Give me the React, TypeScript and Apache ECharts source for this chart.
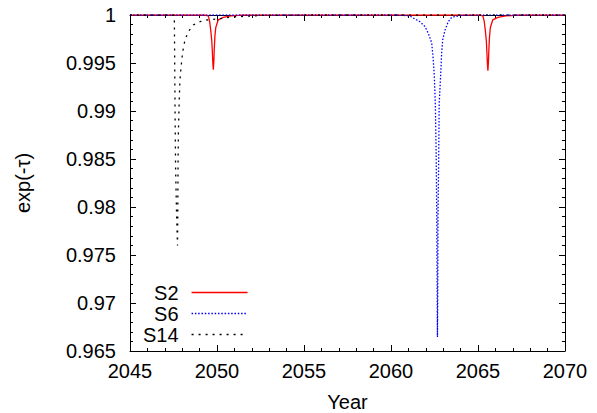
import React, { useEffect, useRef } from "react";
import * as echarts from "echarts";

// S2 (red, solid)
const s2Years = [
  2045, 2049.3, 2049.5, 2049.58, 2049.64, 2049.7, 2049.73, 2049.76, 2049.79, 2049.82, 2049.84, 2049.88, 2049.93,
  2050.07, 2050.36, 2050.8, 2051.5, 2064.5, 2065.08, 2065.28, 2065.36, 2065.42, 2065.48, 2065.51, 2065.54, 2065.57,
  2065.6, 2065.62, 2065.66, 2065.71, 2065.85, 2066.14, 2066.6, 2067.3, 2070,
];
const s2Values = [
  1, 1, 0.9999, 0.9993, 0.9984, 0.9973, 0.9963, 0.995, 0.9943, 0.9952, 0.9963, 0.9978, 0.9987,
  0.9995, 0.99976, 0.9999, 1, 1, 1, 0.9999, 0.9993, 0.9984, 0.9973, 0.9962, 0.9949, 0.9942,
  0.9951, 0.9962, 0.9977, 0.9987, 0.9995, 0.99976, 0.9999, 1, 1,
];

// S6 (blue, dotted)
const s6Years = [
  2045, 2060.5, 2061.09, 2061.38, 2061.67, 2061.95, 2062.14, 2062.34, 2062.43, 2062.49, 2062.55, 2062.6, 2062.63,
  2062.65, 2062.67, 2062.69, 2062.7, 2062.74, 2062.77, 2062.85, 2062.91, 2062.97, 2063.1, 2063.29, 2063.49, 2064.0,
  2065.0, 2070,
];
const s6Values = [
  1, 1, 0.9999, 0.99958, 0.9993, 0.9988, 0.9981, 0.9971, 0.9953, 0.9936, 0.9906, 0.985, 0.9789,
  0.972, 0.96646, 0.972, 0.9789, 0.985, 0.9908, 0.9936, 0.996, 0.9974, 0.9984, 0.9993, 0.99976, 0.99995,
  1, 1,
];

// S14 (black, dotted)
const s14Years = [
  2045, 2047.5, 2047.55, 2047.59, 2047.62, 2047.68, 2047.73, 2047.745, 2047.76, 2047.78, 2047.83, 2047.87, 2047.93,
  2048.03, 2048.16, 2048.35, 2048.64, 2049.02, 2049.41, 2050.27, 2050.92, 2052.5, 2055, 2070,
];
const s14Values = [
  1, 1, 0.9993, 0.99, 0.984, 0.979, 0.976, 0.979, 0.9842, 0.9877, 0.9912, 0.9932, 0.9945,
  0.9962, 0.9974, 0.99826, 0.99896, 0.9993, 0.99948, 0.99965, 0.9998, 0.99995, 1, 1,
];

const seriesNames = ["S2", "S6", "S14"];
const xTicks = { min: 2045, max: 2070, step: 5 };
const yTicks = { min: 0.965, max: 1, step: 0.005 };

const FONT = "'Liberation Sans', Arial, Helvetica, sans-serif";

const pairs = (xs: number[], ys: number[]) => xs.map((x, i) => [x, ys[i]]);

export default function App() {
  const ref = useRef<HTMLDivElement>(null);
  useEffect(() => {
    const chart = echarts.init(ref.current!, null, { renderer: "svg" });
    const axisLine = { show: true, onZero: false, lineStyle: { color: "#000", width: 1 } };
    const axisTick = { show: true, inside: true, length: 6, lineStyle: { color: "#000", width: 1 } };
    const minorTick = { show: true, splitNumber: 5, length: 3, lineStyle: { color: "#000", width: 1 } };
    const labelStyle = { color: "#000", fontSize: 20, fontFamily: FONT };
    chart.setOption({
      animation: false,
      backgroundColor: "#fff",
      grid: { left: 130, top: 15, right: 32, bottom: 62, containLabel: false, outerBoundsMode: "none" },
      xAxis: [
        {
          type: "value",
          position: "bottom",
          min: xTicks.min,
          max: xTicks.max,
          interval: xTicks.step,
          axisLine,
          axisTick,
          minorTick,
          splitLine: { show: false },
          axisLabel: { ...labelStyle, margin: 10, formatter: (v: number) => String(Math.round(v)) },
          name: "Year",
          nameLocation: "middle",
          nameGap: 41,
          nameTextStyle: { ...labelStyle, lineHeight: 20 },
        },
        {
          type: "value",
          position: "top",
          min: xTicks.min,
          max: xTicks.max,
          interval: xTicks.step,
          axisLine,
          axisTick,
          minorTick,
          splitLine: { show: false },
          axisLabel: { show: false },
        },
      ],
      yAxis: [
        {
          type: "value",
          position: "left",
          min: yTicks.min,
          max: yTicks.max,
          interval: yTicks.step,
          axisLine,
          axisTick,
          minorTick,
          splitLine: { show: false },
          axisLabel: {
            ...labelStyle,
            margin: 14,
            formatter: (v: number) => String(parseFloat(v.toFixed(3))),
          },
          name: "exp(-τ)",
          nameLocation: "middle",
          nameRotate: 90,
          nameGap: 97,
          nameTextStyle: { ...labelStyle },
        },
        {
          type: "value",
          position: "right",
          min: yTicks.min,
          max: yTicks.max,
          interval: yTicks.step,
          axisLine,
          axisTick,
          minorTick,
          splitLine: { show: false },
          axisLabel: { show: false },
        },
      ],
      legend: {
        data: seriesNames,
        orient: "vertical",
        align: "right",
        left: 143,
        top: 282,
        padding: 0,
        itemGap: 0,
        itemWidth: 56,
        itemHeight: 10,
        itemStyle: { opacity: 0, borderWidth: 0 },
        lineStyle: { width: 1.3 },
        textStyle: { ...labelStyle, lineHeight: 21, padding: [0, 8, 0, 0] },
      },
      series: [
        {
          name: seriesNames[0],
          type: "line",
          data: pairs(s2Years, s2Values),
          symbol: "none",
          lineStyle: { color: "#ff0000", width: 1.3, type: "solid" },
          itemStyle: { color: "#ff0000" },
        },
        {
          name: seriesNames[1],
          type: "line",
          data: pairs(s6Years, s6Values),
          symbol: "none",
          lineStyle: { color: "#0000ff", width: 1.3, type: [1.5, 1.8] },
          itemStyle: { color: "#0000ff" },
        },
        {
          name: seriesNames[2],
          type: "line",
          data: pairs(s14Years, s14Values),
          symbol: "none",
          lineStyle: { color: "#000000", width: 1.3, type: [2, 5] },
          itemStyle: { color: "#000000" },
        },
      ],
    });
    return () => chart.dispose();
  }, []);
  return (
    <div
      ref={ref}
      style={{ position: "fixed", left: 0, top: 0, width: 597, height: 413, background: "#fff" }}
    />
  );
}
